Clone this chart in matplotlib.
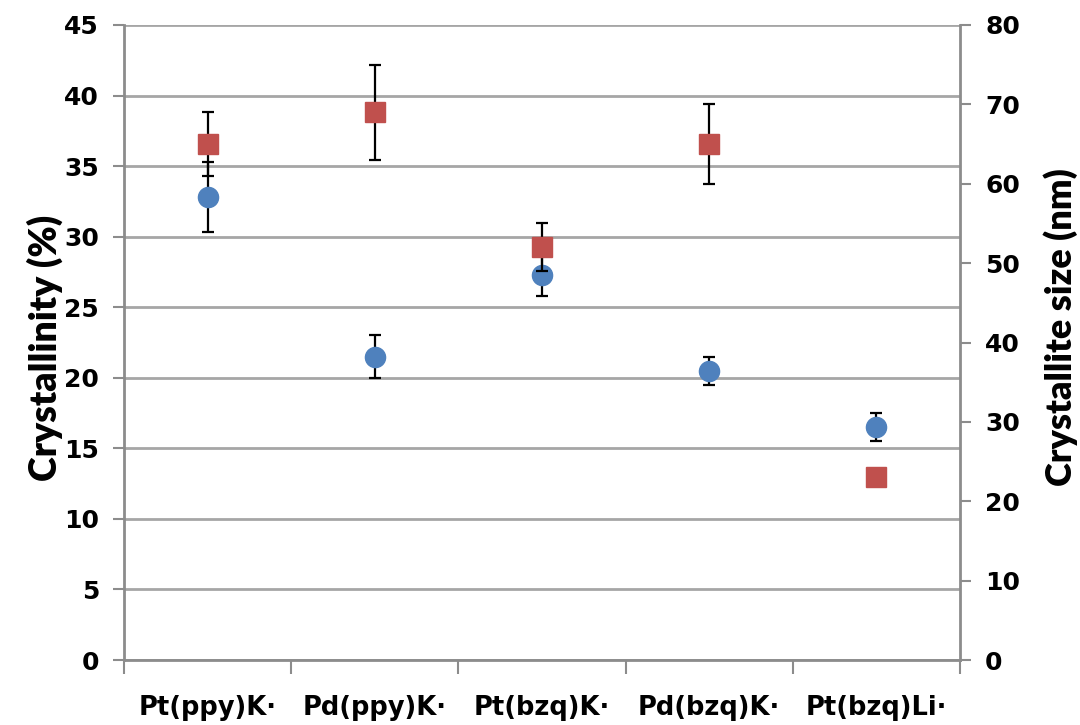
import matplotlib
matplotlib.use("Agg")
import matplotlib.pyplot as plt
import numpy as np

categories = ["Pt(ppy)K·", "Pd(ppy)K·", "Pt(bzq)K·", "Pd(bzq)K·", "Pt(bzq)Li·"]
crystallinity = [32.8, 21.5, 27.3, 20.5, 16.5]
crystallinity_err = [2.5, 1.5, 1.5, 1.0, 1.0]
size_nm = [65.0, 69.0, 52.0, 65.0, 23.0]
size_err = [4.0, 6.0, 3.0, 5.0, 0.0]
left_ticks = [0, 5, 10, 15, 20, 25, 30, 35, 40, 45]
right_ticks = [0, 10, 20, 30, 40, 50, 60, 70, 80]

BLUE = "#4F81BD"
RED = "#C0504D"
GRID = "#A6A6A6"
SPINE = "#8C8C8C"
label_font = ["Lato", "DejaVu Sans"]
tick_font = ["DejaVu Sans"]

fig = plt.figure(figsize=(10.8, 7.25), dpi=100)
ax = fig.add_axes([124/1080, 1-660/725, (960-124)/1080, (660-25)/725])
ax2 = ax.twinx()

x = np.arange(len(categories))
ax.set_xlim(-0.5, len(categories)-0.5)
ax.set_ylim(0, 45)
ax2.set_ylim(0, 80)

ax.set_yticks(left_ticks)
ax2.set_yticks(right_ticks)
ax.yaxis.grid(True, color=GRID, linewidth=2)
ax.set_axisbelow(True)

ax.errorbar(x, crystallinity, yerr=crystallinity_err, fmt="o", color=BLUE,
            markersize=14.5, ecolor="black", elinewidth=1.6, capsize=4.5,
            capthick=1.6, zorder=3)
ax2.errorbar(x, size_nm, yerr=size_err, fmt="s", color=RED,
             markersize=14.5, ecolor="black", elinewidth=1.6, capsize=4.5,
             capthick=1.6, zorder=3)

# x axis: category ticks at boundaries
ax.set_xticks(np.arange(-0.5, len(categories), 1.0))
ax.set_xticklabels([])
ax.set_xticks(x, minor=True)
ax.set_xticklabels(categories, minor=True, fontfamily=tick_font,
                   fontweight="bold", fontsize=18.5)
ax.tick_params(axis="x", which="major", length=10, width=1.5, color=SPINE, direction="out")
ax.tick_params(axis="x", which="minor", length=0, pad=25)

for a in (ax, ax2):
    for s in a.spines.values():
        s.set_visible(False)
ax.spines["left"].set_visible(True)
ax.spines["left"].set_color(SPINE)
ax.spines["left"].set_linewidth(2)
ax.spines["bottom"].set_visible(True)
ax.spines["bottom"].set_color(SPINE)
ax.spines["bottom"].set_linewidth(2)
ax2.spines["right"].set_visible(True)
ax2.spines["right"].set_color(SPINE)
ax2.spines["right"].set_linewidth(2)

ax.tick_params(axis="y", length=8, width=1.5, color=SPINE, pad=10, labelsize=18)
ax2.tick_params(axis="y", length=8, width=1.5, color=SPINE, pad=10, labelsize=18)
for lab in ax.get_yticklabels() + ax2.get_yticklabels():
    lab.set_fontweight("bold")
    lab.set_fontfamily(tick_font)

ax.set_ylabel("Crystallinity (%)", fontfamily=label_font, fontweight="heavy",
              fontsize=27)
ax2.set_ylabel("Crystallite size (nm)", fontfamily=label_font, fontweight="heavy",
               fontsize=26)
ax.yaxis.label.set_verticalalignment("center")
ax2.yaxis.label.set_verticalalignment("center")
ax.yaxis.set_label_coords(-0.0945, 0.491)
ax2.yaxis.set_label_coords(1.121, 0.524)

fig.savefig("out.png", dpi=100)
